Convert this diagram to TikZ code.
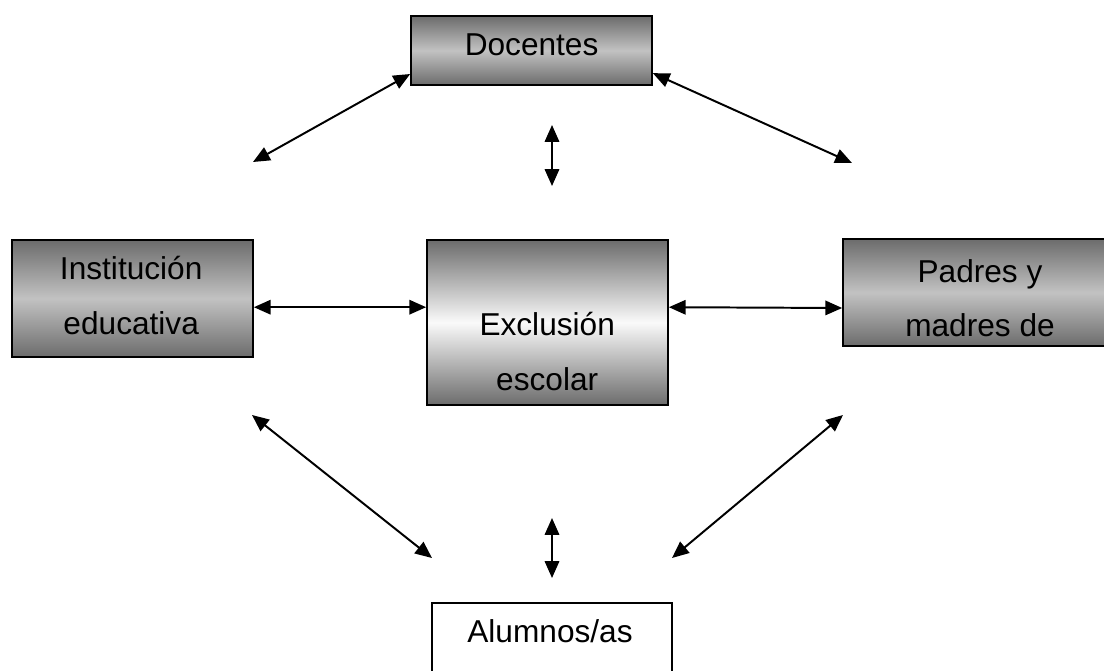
\documentclass[tikz,border=0pt]{standalone}
\usepackage{fontspec}
\setmainfont{Liberation Sans}
\usetikzlibrary{arrows.meta,positioning,calc}
\definecolor{bxdark}{HTML}{6C6C6C}
\definecolor{bxmid}{HTML}{C2C2C2}
\definecolor{bxlight}{HTML}{FAFAFA}

\begin{document}
\begin{tikzpicture}[>={Triangle[length=4.2mm,width=3.6mm]},
  bx/.style={draw=black,line width=1.2pt,rectangle,inner sep=0pt,
    top color=bxdark,bottom color=bxdark,middle color=bxmid},
  bxw/.style={draw=black,line width=1.2pt,rectangle,inner sep=0pt,fill=white},
  tx/.style={font=\fontsize{22.5pt}{38.5pt}\selectfont,align=center,inner sep=0pt,anchor=base},
  ed/.style={<->,black,line width=1.4pt}]
\useasboundingbox (0,0) rectangle (27.6,-16.775);
\node[bx,minimum width=6.025cm,minimum height=1.725cm] (doc) at (13.2875,-1.2625) {};
\node[bx,minimum width=6.025cm,minimum height=2.925cm] (inst) at (3.3125,-7.4625) {};
\node[bx,middle color=bxlight,minimum width=6.025cm,minimum height=4.125cm] (excl) at (13.6875,-8.0625) {};
\node[bx,minimum width=6.85cm,minimum height=2.675cm] (pad) at (24.5,-7.3125) {};
\node[bxw,minimum width=6cm,minimum height=2.5cm] (alu) at (13.8,-16.325) {};

% base = baseline of the last line
\node[tx] (doc-t) at (13.29,-1.4) {Docentes};
\node[tx] (inst-t) at (3.28,-8.35) {Institución\\educativa};
\node[tx] (excl-t) at (13.68,-9.75) {Exclusión\\escolar};
\node[tx] (pad-t) at (24.5,-8.42) {Padres y\\madres de};
\node[tx] (alu-t) at (13.75,-16.05) {Alumnos/as};

% free ends of the arrows
\coordinate (dl) at (6.325,-4.05);
\coordinate (dr) at (21.3,-4.075);
\coordinate (vt1) at (13.8,-3.125);
\coordinate (vt2) at (13.8,-4.65);
\coordinate (ll1) at (6.3,-10.375);
\coordinate (ll2) at (10.8,-13.95);
\coordinate (lr1) at (21.075,-10.375);
\coordinate (lr2) at (16.8,-13.95);
\coordinate (vb1) at (13.8,-12.95);
\coordinate (vb2) at (13.8,-14.45);

\draw[ed] (dl) -- (doc.west |- 0,-1.85);
\draw[ed] (doc.east |- 0,-1.83) -- (dr);
\draw[ed] (vt1) -- (vt2);
\draw[ed] (inst.east |- 0,-7.68) -- (excl.west |- 0,-7.68);
\draw[ed] (excl.east |- 0,-7.68) -- (pad.west |- 0,-7.7);
\draw[ed] (ll1) -- (ll2);
\draw[ed] (lr1) -- (lr2);
\draw[ed] (vb1) -- (vb2);
\end{tikzpicture}
\end{document}
